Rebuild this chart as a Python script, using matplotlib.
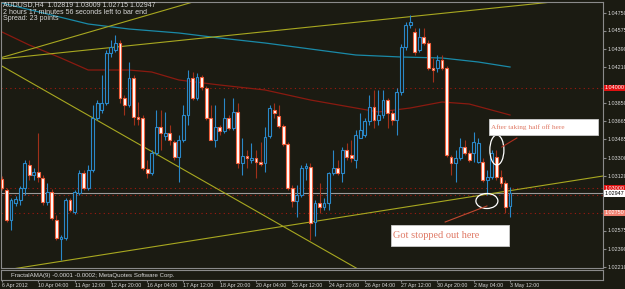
import matplotlib
matplotlib.use("Agg")
import matplotlib.pyplot as plt
import matplotlib.transforms as mtransforms
from matplotlib.patches import Ellipse, Rectangle
import numpy as np

# AUDUSD H4 candles, 6 Apr 2012 -> 3 May 2012 12:00
opens = [1.0309, 1.0298, 1.0268, 1.0285, 1.0288, 1.0300, 1.0323, 1.0313, 1.0316, 1.0310,
         1.0286, 1.0296, 1.0268, 1.0249, 1.0250, 1.0288, 1.0276, 1.0295, 1.0315, 1.0300,
         1.0318, 1.0370, 1.0378, 1.0385, 1.0435, 1.0438, 1.0445, 1.0390, 1.0383, 1.0410,
         1.0371, 1.0370, 1.0319, 1.0315, 1.0335, 1.0361, 1.0352, 1.0355, 1.0346, 1.0331,
         1.0348, 1.0373, 1.0410, 1.0390, 1.0411, 1.0400, 1.0370, 1.0348, 1.0361, 1.0357,
         1.0370, 1.0360, 1.0376, 1.0325, 1.0332, 1.0328, 1.0330, 1.0326, 1.0325, 1.0352,
         1.0378, 1.0372, 1.0362, 1.0344, 1.0300, 1.0287, 1.0293, 1.0320, 1.0321, 1.0266,
         1.0285, 1.0281, 1.0285, 1.0315, 1.0320, 1.0315, 1.0338, 1.0333, 1.0328, 1.0350,
         1.0353, 1.0367, 1.0381, 1.0368, 1.0373, 1.0388, 1.0375, 1.0368, 1.0396, 1.0441,
         1.0463, 1.0456, 1.0438, 1.0451, 1.0445, 1.0420, 1.0420, 1.0428, 1.0420, 1.0331,
         1.0325, 1.0330, 1.0341, 1.0335, 1.0335, 1.0326, 1.0326, 1.0308, 1.0311, 1.0331,
         1.0311, 1.0305, 1.02819]
highs = [1.0312, 1.0300, 1.0290, 1.0292, 1.0302, 1.0328, 1.0328, 1.0320, 1.0355, 1.0313,
         1.0305, 1.0299, 1.0273, 1.0253, 1.0290, 1.0290, 1.0298, 1.0318, 1.0318, 1.0323,
         1.0383, 1.0388, 1.0413, 1.0438, 1.0448, 1.0453, 1.0448, 1.0393, 1.0426, 1.0413,
         1.0386, 1.0373, 1.0328, 1.0338, 1.0378, 1.0378, 1.0376, 1.0363, 1.0348, 1.0353,
         1.0383, 1.0418, 1.0416, 1.0415, 1.0413, 1.0402, 1.0383, 1.0383, 1.0363, 1.0390,
         1.0373, 1.0390, 1.0385, 1.0350, 1.0338, 1.0345, 1.0338, 1.0346, 1.0361, 1.0383,
         1.0385, 1.0383, 1.0364, 1.0346, 1.0303, 1.0303, 1.0323, 1.0325, 1.0325, 1.0288,
         1.0305, 1.0290, 1.0316, 1.0338, 1.0328, 1.0341, 1.0345, 1.0348, 1.0358, 1.0375,
         1.0370, 1.0393, 1.0398, 1.0398, 1.0398, 1.0390, 1.0378, 1.0400, 1.0444, 1.0466,
         1.0473, 1.0460, 1.0460, 1.0460, 1.0448, 1.0430, 1.0433, 1.0433, 1.0422, 1.0333,
         1.0338, 1.0350, 1.0348, 1.0338, 1.0356, 1.0350, 1.0330, 1.0318, 1.0338, 1.0338,
         1.0318, 1.0308, 1.03009]
lows = [1.0298, 1.0266, 1.0258, 1.0282, 1.0283, 1.0293, 1.0308, 1.0308, 1.0306, 1.0283,
        1.0283, 1.0268, 1.0248, 1.0228, 1.0248, 1.0276, 1.0274, 1.0293, 1.0298, 1.0298,
        1.0316, 1.0368, 1.0375, 1.0383, 1.0431, 1.0436, 1.0385, 1.0373, 1.0381, 1.0363,
        1.0363, 1.0318, 1.0310, 1.0313, 1.0333, 1.0338, 1.0348, 1.0343, 1.0328, 1.0306,
        1.0346, 1.0363, 1.0388, 1.0388, 1.0398, 1.0368, 1.0348, 1.0341, 1.0353, 1.0355,
        1.0358, 1.0358, 1.0320, 1.0313, 1.0320, 1.0325, 1.0310, 1.0322, 1.0316, 1.0350,
        1.0370, 1.0360, 1.0342, 1.0298, 1.0281, 1.0271, 1.0291, 1.0308, 1.0248, 1.0252,
        1.0275, 1.0278, 1.0278, 1.0313, 1.0313, 1.0306, 1.0328, 1.0326, 1.0320, 1.0350,
        1.0351, 1.0363, 1.0360, 1.0363, 1.0370, 1.0360, 1.0363, 1.0353, 1.0393, 1.0438,
        1.0460, 1.0433, 1.0436, 1.0443, 1.0418, 1.0406, 1.0416, 1.0418, 1.0331, 1.0313,
        1.0306, 1.0328, 1.0333, 1.0326, 1.0326, 1.0325, 1.0306, 1.0293, 1.0309, 1.0308,
        1.0301, 1.0275, 1.02715]
closes = [1.0300, 1.0268, 1.0288, 1.0289, 1.0300, 1.0325, 1.0313, 1.0316, 1.0311, 1.0286,
          1.0296, 1.0270, 1.0250, 1.0251, 1.0288, 1.0278, 1.0296, 1.0315, 1.0300, 1.0318,
          1.0370, 1.0385, 1.0385, 1.0435, 1.0441, 1.0445, 1.0390, 1.0383, 1.0410, 1.0371,
          1.0369, 1.0320, 1.0315, 1.0335, 1.0361, 1.0355, 1.0355, 1.0348, 1.0331, 1.0348,
          1.0373, 1.0410, 1.0390, 1.0411, 1.0401, 1.0370, 1.0348, 1.0361, 1.0357, 1.0370,
          1.0360, 1.0376, 1.0325, 1.0332, 1.0330, 1.0330, 1.0326, 1.0324, 1.0351, 1.0380,
          1.0375, 1.0362, 1.0344, 1.0300, 1.0287, 1.0293, 1.0320, 1.0322, 1.0265, 1.0285,
          1.0281, 1.0285, 1.0315, 1.0320, 1.0315, 1.0338, 1.0331, 1.0330, 1.0353, 1.0358,
          1.0367, 1.0381, 1.0368, 1.0373, 1.0388, 1.0375, 1.0368, 1.0396, 1.0441, 1.0463,
          1.0466, 1.0436, 1.0451, 1.0445, 1.0420, 1.0418, 1.0428, 1.0420, 1.0333, 1.0325,
          1.0330, 1.0341, 1.0335, 1.0328, 1.0346, 1.0345, 1.0308, 1.0311, 1.0335, 1.0311,
          1.0305, 1.0281, 1.02947]

# moving averages (bar index, price)
teal_idx = [0, 10, 19, 28, 39, 48, 58, 68, 78, 88, 97, 105, 112]
teal_val = [1.0485, 1.0474, 1.0464, 1.0459, 1.0455, 1.0450, 1.0445, 1.0439, 1.0433,
            1.0431, 1.0430, 1.0426, 1.0421]
red_idx = [0, 6, 13, 19, 28, 33, 39, 48, 58, 68, 78, 83, 90, 97, 103, 112]
red_val = [1.0456, 1.0443, 1.0430, 1.0418, 1.0418, 1.0416, 1.0408, 1.0403, 1.0398,
           1.0388, 1.0380, 1.0376, 1.0380, 1.0386, 1.0384, 1.0373]

# trendlines: (start idx, start price, end idx, end price)
trend_lines = [(0, 1.04306, 44, 1.04885),
               (0, 1.04292, 132, 1.04910),
               (0, 1.04219, 80, 1.02150),
               (0, 1.02174, 132.5, 1.03120)]

levels_dotted = [1.0400, 1.0300, 1.0293, 1.0275]
bid = 1.02947

ytick_vals = [1.04750, 1.04575, 1.04390, 1.04210, 1.03850, 1.03665, 1.03485,
              1.03300, 1.03120, 1.02575, 1.02390, 1.02210]
xtick_idx = [0, 8, 16, 24, 32, 40, 48, 56, 64, 72, 80, 88, 96, 104, 112]
xtick_lbl = ["6 Apr 2012", "10 Apr 04:00", "11 Apr 12:00", "12 Apr 20:00", "16 Apr 04:00",
             "17 Apr 12:00", "18 Apr 20:00", "20 Apr 04:00", "23 Apr 12:00", "24 Apr 20:00",
             "26 Apr 04:00", "27 Apr 12:00", "30 Apr 20:00", "2 May 04:00", "3 May 12:00"]

BG = "#1b1b12"
FRAME = "#8a8a8a"
TXT = "#d8d8d8"
BULL = "#2a88c8"
BEAR_EDGE = "#f0603c"
BEAR_WICK = "#a0301a"
YEL = "#a8a820"

plt.rcParams['font.family'] = ['Liberation Sans', 'DejaVu Sans']

W, H = 625, 289
fig = plt.figure(figsize=(W / 100, H / 100), dpi=100)
fig.patch.set_facecolor(BG)

px_per_bar = 4.536
def bar_at(px):
    return (px - 2) / px_per_bar

ax = fig.add_axes([1 / W, 1 - 268 / H, 602 / W, 266 / H])
ax.set_facecolor(BG)
ax.set_xlim(bar_at(1), bar_at(603))
ax.set_ylim(1.0220, 1.0486)

x = np.arange(len(opens))
o = np.array(opens); c = np.array(closes); hi = np.array(highs); lo = np.array(lows)
up = c >= o

# wicks
ax.vlines(x[up], lo[up], hi[up], color=BULL, lw=0.8, zorder=3)
ax.vlines(x[~up], lo[~up], hi[~up], color=BEAR_WICK, lw=0.8, zorder=3)
# bodies
ax.bar(x[up], np.maximum(c[up] - o[up], 0.00004), bottom=o[up], width=0.62,
       color=BG, edgecolor=BULL, linewidth=0.8, zorder=4)
ax.bar(x[~up], np.maximum(o[~up] - c[~up], 0.00004), bottom=c[~up], width=0.62,
       color="white", edgecolor=BEAR_EDGE, linewidth=0.8, zorder=4)

# indicators
ax.plot(teal_idx, teal_val, color="#1a8aa8", lw=0.9, zorder=2)
ax.plot(red_idx, red_val, color="#8a1a10", lw=0.9, zorder=2)
for x0, y0, x1, y1 in trend_lines:
    ax.plot([x0 - 1, x1], [y0 - (y1 - y0) / (x1 - x0), y1], color=YEL, lw=0.8, zorder=2)

for lv in levels_dotted:
    ax.axhline(lv, color="#a01a10", lw=0.8, ls=(0, (1, 3)), zorder=1)
ax.axhline(bid, color="#9a9a9a", lw=0.8, zorder=1)

# annotations
ax.add_patch(Ellipse((109.1, 1.0338), 3.1, 0.0030, fill=False, ec="white", lw=0.9, zorder=6))
ax.add_patch(Ellipse((106.9, 1.0287), 4.85, 0.0015, fill=False, ec="white", lw=0.9, zorder=6))
ax.plot([110.2, 113.5], [1.0341, 1.0350], color="#b03020", lw=0.8, zorder=6)
ax.plot([106.9, 97.7], [1.0282, 1.0266], color="#c04830", lw=0.8, zorder=6)
ax.add_patch(Rectangle((107.4, 1.0353), 24.0, 0.0016, fc="white", ec="#cccccc", lw=0.6, zorder=7))
ax.text(107.8, 1.0361, "After taking half off here", family="Liberation Serif",
        fontsize=5.2, color="#e07a66", va="center", zorder=8)
ax.add_patch(Rectangle((85.8, 1.0242), 26.0, 0.0021, fc="white", ec="#cccccc", lw=0.6, zorder=7))
ax.text(86.2, 1.02525, "Got stopped out here", family="Liberation Serif",
        fontsize=7.4, color="#e07a66", va="center", zorder=8)

for s in ax.spines.values():
    s.set_color(FRAME)
ax.set_xticks([])
ax.yaxis.tick_right()
ax.set_yticks(ytick_vals)
ax.set_yticklabels([f"{v:.5f}" for v in ytick_vals])
ax.tick_params(axis="y", colors=FRAME, labelcolor=TXT, labelsize=3.9, length=2, pad=1)

# price boxes on the axis
trans = mtransforms.blended_transform_factory(ax.transAxes, ax.transData)
for val, txt, fc, tc in [(1.0400, "1.04000", "#e01010", "white"),
                         (1.0300, "1.03000", "#e01010", "white"),
                         (bid, "1.02947", "white", "black"),
                         (1.0275, "1.02750", "#f08070", "white")]:
    ax.text(1.003, val, txt, transform=trans, fontsize=3.9, color=tc, va="center",
            ha="left", clip_on=False, zorder=10,
            bbox=dict(boxstyle="square,pad=0.15", fc=fc, ec="none"))

# header
fig.text(3 / W, 1 - 5 / H, "AUDUSD,H4  1.02819 1.03009 1.02715 1.02947", fontsize=5.0,
         color=TXT, va="center")
fig.text(3 / W, 1 - 12 / H, "2 hours 17 minutes 56 seconds left to bar end", fontsize=5.0,
         color=TXT, va="center")
fig.text(3 / W, 1 - 18.5 / H, "Spread: 23 points", fontsize=5.0, color=TXT, va="center")

# sub window
sub = fig.add_axes([1 / W, 1 - 280 / H, 602 / W, 10 / H])
sub.set_facecolor(BG)
sub.set_xlim(ax.get_xlim())
sub.set_ylim(0, 1)
for s in sub.spines.values():
    s.set_color(FRAME)
sub.set_yticks([])
sub.text(2, 0.5, "FractalAMA(9) -0.0001 -0.0002; MetaQuotes Software Corp.", fontsize=4.4,
         color=TXT, va="center")
sub.set_xticks(xtick_idx)
sub.set_xticklabels(xtick_lbl)
sub.tick_params(axis="x", colors=FRAME, labelcolor=TXT, labelsize=3.8, length=1.5, pad=0.5)
for lab in sub.get_xticklabels():
    lab.set_horizontalalignment("left")

fig.savefig("out.png", dpi=100, facecolor=BG)
